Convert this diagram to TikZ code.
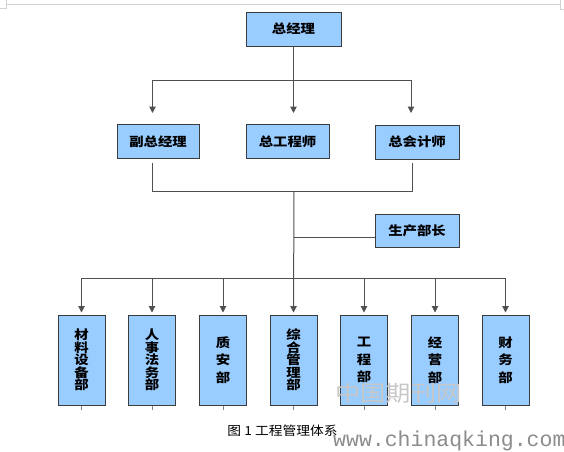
\documentclass[tikz,border=0pt]{standalone}
\usepackage{fontspec}
\newfontfamily\cjk[FakeStretch=1.15]{Noto Sans CJK SC}
\newfontfamily\cjkn[FakeStretch=1.1]{Noto Sans CJK SC}
\newfontfamily\wmono{Liberation Mono}
\usetikzlibrary{arrows.meta,calc}
\definecolor{boxblue}{HTML}{99CCFF}
\definecolor{boxedge}{HTML}{3C3C3C}
\definecolor{wline}{HTML}{505050}
\definecolor{wmark}{HTML}{8C8C8C}
\begin{document}
\begin{tikzpicture}[x=1pt,y=-1pt,
  box/.style={draw=boxedge,line width=1pt,fill=boxblue,inner sep=0pt,
    font=\cjk\bfseries\fontsize{12.5}{14}\selectfont},
  hbox/.style={box,minimum height=34pt},
  vbox/.style={box,minimum width=47pt,minimum height=90pt,align=center},
  tight/.style={font=\cjk\bfseries\fontsize{12.5}{12.5}\selectfont},
  loose/.style={font=\cjk\bfseries\fontsize{12.5}{17.5}\selectfont},
  conn/.style={draw=wline,line width=1pt},
  stub/.style={draw=wline!70,line width=0.8pt},
  arr/.style={conn,-{Triangle[width=6.5pt,length=6.5pt]}}]
\useasboundingbox (0,0) rectangle (564,451);
% page edge marks
\draw[gray!35,line width=0.6pt] (6,4) -- (560,4);
\draw[gray!35,line width=0.6pt] (0,8) -- (6,8) -- (6,0);
\draw[gray!35,line width=0.6pt] (560,0) -- (560,9) -- (564,9);

% top levels
\node[hbox,minimum width=95pt] (gm) at (293.5,29) {总经理};
\node[hbox,minimum width=82pt] (vgm) at (158,141.5) {副总经理};
\node[hbox,minimum width=83pt] (ce) at (287.5,141.5) {总工程师};
\node[hbox,minimum width=84pt] (ca) at (417,142) {总会计师};
\node[hbox,minimum width=84pt,minimum height=33pt] (pm) at (417,230.5) {生产部长};

% departments
\node[vbox,tight] (d1) at (81.5,360) {材\\料\\设\\备\\部};
\node[vbox,tight] (d2) at (152,360) {人\\事\\法\\务\\部};
\node[vbox,loose] (d3) at (223,360) {质\\安\\部};
\node[vbox,tight] (d4) at (293.5,360) {综\\合\\管\\理\\部};
\node[vbox,loose] (d5) at (364,360) {工\\程\\部};
\node[vbox,loose] (d6) at (435,360) {经\\营\\部};
\node[vbox,loose] (d7) at (505.5,360) {财\\务\\部};

% connectors top
\coordinate (j0) at (293.5,80);
\coordinate (jl) at (152.5,80);
\coordinate (jr) at (411,80);
\coordinate (al) at (152.5,113);
\coordinate (am) at (293.5,113);
\coordinate (ar) at (411,113);
\draw[conn] (gm.south) -- (j0);
\draw[conn] (jl) -- (jr);
\draw[arr] (jl) -- (al);
\draw[arr] (j0) -- (am);
\draw[arr] (jr) -- (ar);

% second level join
\coordinate (bl) at (152,163);
\coordinate (bl2) at (152,191);
\coordinate (br) at (412,163);
\coordinate (br2) at (412,191);
\coordinate (jc) at (294,191);
\coordinate (jp) at (294,237);
\coordinate (hb) at (294,278);
\draw[conn] (bl) -- (bl2) -- (br2) -- (br);
\draw[conn] (jp) -- (jp -| pm.west);
\draw[arr] (jc) -- ($(d4.north)+(0,-2)$);
\draw[conn] (hb -| d1.north) -- (hb -| d7.north);
\foreach \d in {d1,d2,d3,d5,d6,d7}{
  \draw[arr] (hb -| \d.north) -- ($(\d.north)+(0,-2)$);
  \draw[stub] (\d.south) -- ++(0,4);
}
\draw[stub] (d4.south) -- ++(0,4);

% caption and watermark
\node[font=\cjkn\fontsize{12.5}{14}\selectfont,inner sep=0pt] (cap) at (282.5,431) {图 1 工程管理体系};
\node[font=\cjk\fontsize{22}{25}\selectfont,text=black!22,inner sep=0pt] (wm1) at (398.5,393) {中国期刊网};
\node[font=\wmono\fontsize{21.5}{24}\selectfont,text=wmark,inner sep=0pt,anchor=base west] (wm2) at (333,446) {www.chinaqking.com};
\end{tikzpicture}
\end{document}
